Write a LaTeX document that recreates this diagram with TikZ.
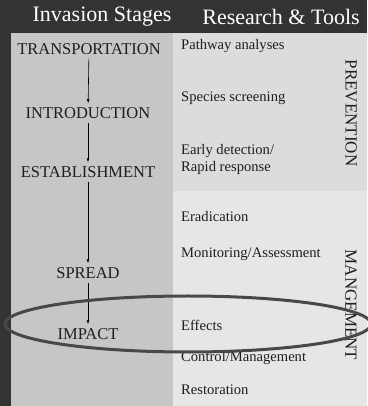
\documentclass[tikz,border=0pt]{standalone}
\usepackage{fontspec}
\setmainfont{Liberation Serif}
\usetikzlibrary{arrows.meta,positioning}
\definecolor{slidebg}{RGB}{51,51,51}
\definecolor{stagegray}{RGB}{198,198,198}
\definecolor{prevgray}{RGB}{220,220,220}
\definecolor{mgmtgray}{RGB}{230,230,230}
\definecolor{ringgray}{RGB}{72,72,72}
\definecolor{inkgray}{RGB}{30,30,30}
\tikzset{
  % header texts
  head/.style={font=\fontsize{22}{25}\selectfont, text=white},
  % invasion stages
  stage/.style={font=\fontsize{16.5}{19}\selectfont, text=inkgray, inner sep=4pt},
  % research and tools
  tool/.style={font=\fontsize{14.6}{17}\selectfont, text=inkgray, anchor=west, inner sep=0pt, align=left},
  % rotated side labels
  side/.style={font=\fontsize{17}{19}\selectfont, text=inkgray, rotate=-90},
  % arrows between stages
  stagearr/.style={-{Latex[length=4pt,width=3pt]}, line width=0.6pt, black},
}

\begin{document}
\begin{tikzpicture}[x=1pt, y=1pt]
  \useasboundingbox (0,0) rectangle (367,406);
  % panels
  \fill[slidebg] (0,0) rectangle (367,406);
  \fill[stagegray] (11,0) rectangle (173,373);
  \fill[prevgray] (173,215) rectangle (367,373);
  \fill[mgmtgray] (173,0) rectangle (367,215);

  % headers
  \node[head] (hstages) at (102,389) {Invasion Stages};
  \node[head] (htools) at (281,389) {Research \& Tools};

  % stages
  \node[stage] (transport) at (89,357) {TRANSPORTATION};
  \node[stage] (intro) at (88,293) {INTRODUCTION};
  \node[stage] (establish) at (88,234) {ESTABLISHMENT};
  \node[stage] (spread) at (88,133) {SPREAD};
  \node[stage] (impact) at (88,72) {IMPACT};

  \draw[stagearr] (transport) -- (intro);
  \draw[stagearr] (intro) -- (establish);
  \draw[stagearr] (establish) -- (spread);
  \draw[stagearr] (spread) -- (impact);

  % tools
  \node[tool] (pathway) at (181,360) {Pathway analyses};
  \node[tool] (screening) at (181,308) {Species screening};
  \node[tool] (detection) at (181,247) {Early detection/\\Rapid response};
  \node[tool] (eradication) at (181,189) {Eradication};
  \node[tool] (monitoring) at (181,152) {Monitoring/Assessment};
  \node[tool] (effects) at (181,81) {Effects};
  \node[tool] (control) at (181,48) {Control/Management};
  \node[tool] (restoration) at (181,16) {Restoration};

  % side labels
  \node[side] (prevention) at (351,293) {PREVENTION};
  \node[side] (management) at (351,101) {MANGEMENT};

  % highlight ring
  \draw[ringgray, line width=3pt] (188,82) ellipse [x radius=183, y radius=28];
\end{tikzpicture}
\end{document}
